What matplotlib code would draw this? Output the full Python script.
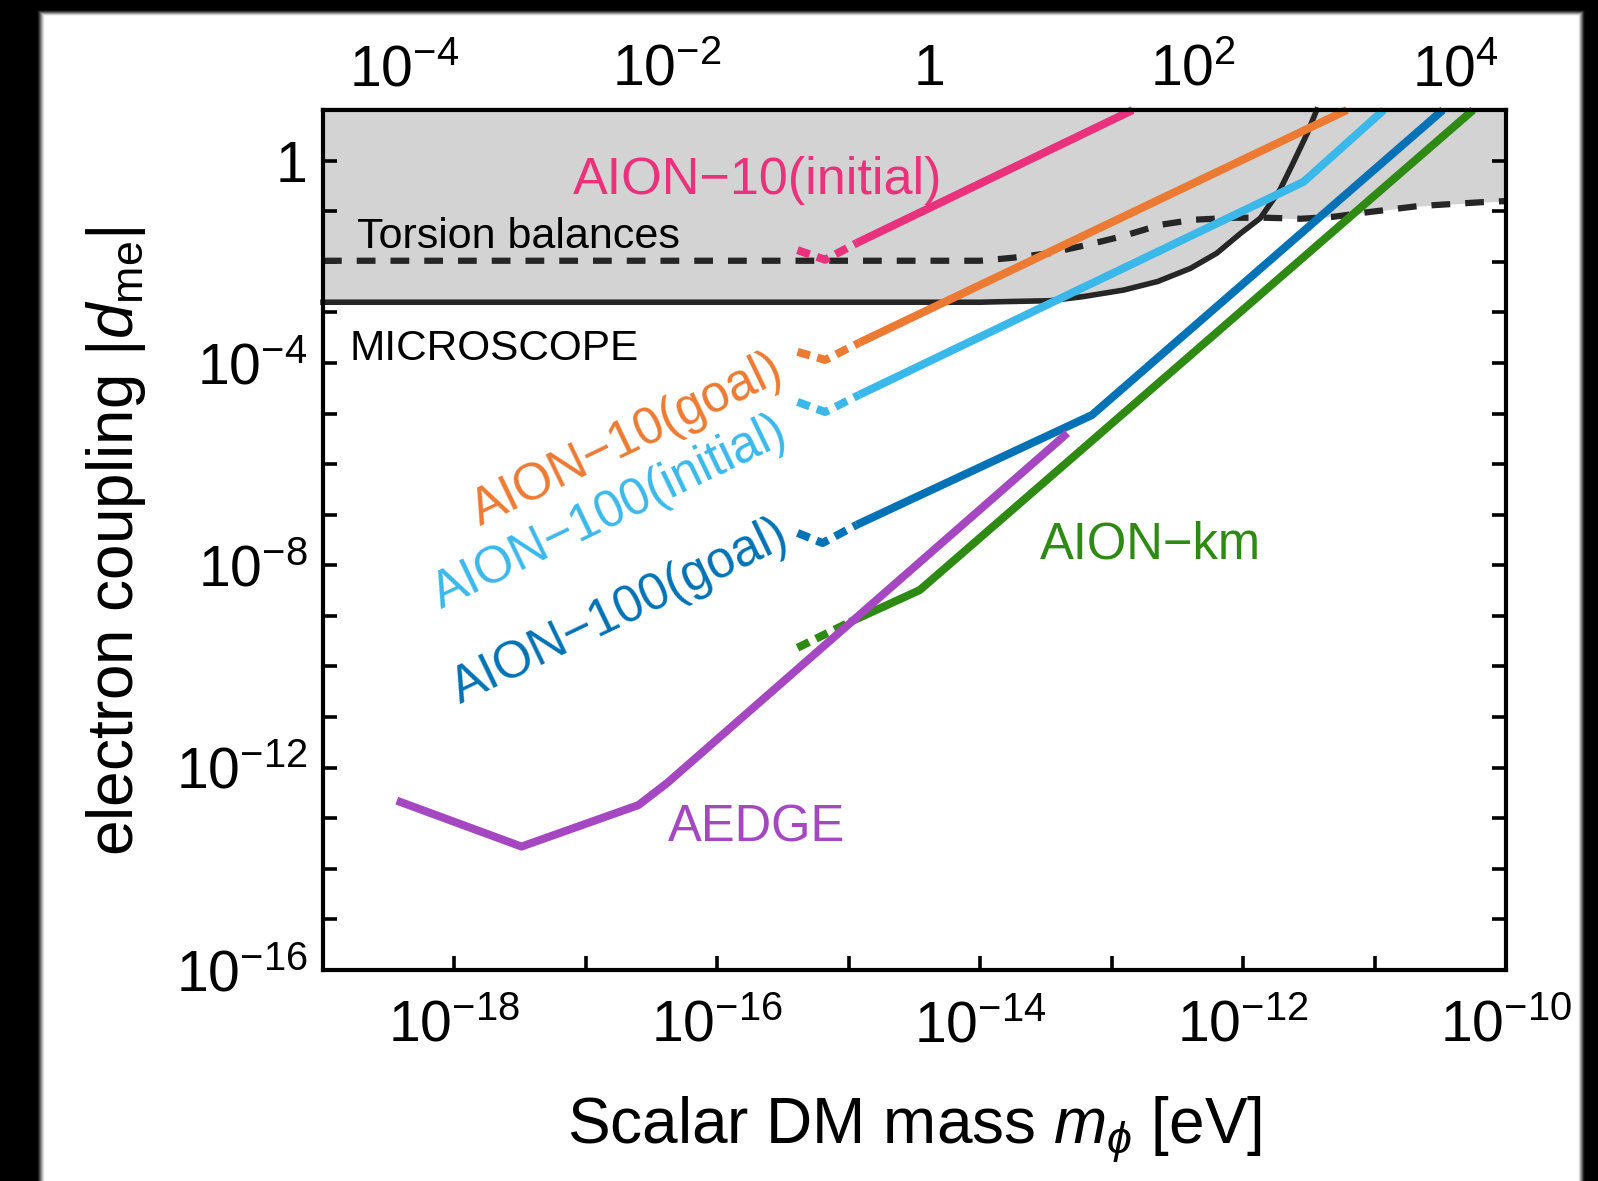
import numpy as np
import matplotlib
matplotlib.use("Agg")
import matplotlib.pyplot as plt
from matplotlib.ticker import FixedLocator, FixedFormatter, NullLocator

plt.rcParams['font.family'] = ['Liberation Sans', 'DejaVu Sans']
plt.rcParams['mathtext.fontset'] = 'custom'
plt.rcParams['mathtext.rm'] = 'Liberation Sans'
plt.rcParams['mathtext.it'] = 'Liberation Sans:italic'
plt.rcParams['mathtext.bf'] = 'Liberation Sans:bold'

# ---- data (log10 of mass [eV] and log10 of |d_me|) ----
microscope_m = [-19.0, -14.0, -13.85, -13.47, -13.22, -12.91, -12.65, -12.40, -12.20,
                -12.02, -11.87, -11.72, -11.62, -11.51, -11.44]
microscope_d = [-2.80, -2.80, -2.79, -2.77, -2.69, -2.56, -2.39, -2.13, -1.83,
                -1.44, -1.14, -0.58, -0.05, 0.55, 1.0]

torsion_m = [-19.0, -14.0, -13.75, -13.47, -13.16, -12.91, -12.63, -12.38, -12.07,
             -11.82, -11.56, -11.31, -11.05, -10.67, -10.17, -10.0]
torsion_d = [-1.98, -1.98, -1.92, -1.83, -1.65, -1.49, -1.27, -1.17, -1.13,
             -1.13, -1.15, -1.11, -1.02, -0.90, -0.82, -0.80]

aion10_init_dash_m = [-15.39, -15.18, -14.94]
aion10_init_dash_d = [-1.77, -1.96, -1.63]
aion10_init_m = [-14.94, -12.84]
aion10_init_d = [-1.63, 1.0]

aion10_goal_dash_m = [-15.39, -15.18, -14.92]
aion10_goal_dash_d = [-3.78, -3.94, -3.60]
aion10_goal_m = [-14.92, -11.21]
aion10_goal_d = [-3.60, 1.0]

aion100_init_dash_m = [-15.39, -15.18, -14.92]
aion100_init_dash_d = [-4.77, -4.97, -4.63]
aion100_init_m = [-14.92, -11.54, -10.93]
aion100_init_d = [-4.63, -0.42, 1.0]

aion100_goal_dash_m = [-15.39, -15.20, -14.94]
aion100_goal_dash_d = [-7.36, -7.56, -7.20]
aion100_goal_m = [-14.94, -13.15, -10.48]
aion100_goal_d = [-7.20, -5.03, 1.0]

aionkm_dash_m = [-15.39, -14.99]
aionkm_dash_d = [-9.63, -9.12]
aionkm_m = [-14.99, -14.46, -10.25]
aionkm_d = [-9.12, -8.49, 1.0]

aedge_m = [-18.41, -17.49, -16.60, -16.38, -13.36]
aedge_d = [-12.68, -13.56, -12.74, -12.30, -5.44]

x_major_exp = [-18, -16, -14, -12, -10]
y_major_exp = [-16, -12, -8, -4, 0]
top_major_exp = [-4, -2, 0, 2, 4]

# ---- colours ----
c_pink = '#e9327b'
c_orange = '#ec7a33'
c_lblue = '#3bb8ea'
c_dblue = '#0072b5'
c_green = '#2f8a14'
c_purple = '#a647c2'
c_black = '#262626'
c_shade = '#d3d3d3'

W, H, DPI = 1598, 1181, 100
fig = plt.figure(figsize=(W / DPI, H / DPI), dpi=DPI, facecolor='white')

# dark frame around the page with a soft inner edge
yy, xx = np.mgrid[0:H, 0:W].astype(float)
def ramp(v):
    v = np.clip(v, 0, 1)
    return v * v * (3 - 2 * v)
dark = np.maximum.reduce([
    ramp((45 - xx) / 9.0),
    ramp((16 - yy) / 7.0),
    ramp((xx - 1577) / 8.0),
])
frame = np.ones((H, W, 3)) * (1 - dark)[..., None]
fig.figimage(frame, xo=0, yo=0, origin='upper', zorder=-10)

ax = fig.add_axes([323 / W, 1 - 970 / H, 1183 / W, 860 / H])
ax.set_zorder(2)
ax.set_facecolor('white')
ax.set_xscale('log')
ax.set_yscale('log')
ax.set_xlim(1e-19, 1e-10)
ax.set_ylim(1e-16, 10)

def p(a):
    return 10.0 ** np.asarray(a, dtype=float)

# excluded region: above the lower envelope of MICROSCOPE and torsion balances
grid = np.linspace(-19, -10, 2000)
mic = np.interp(grid, microscope_m, microscope_d, right=np.inf)
tor = np.interp(grid, torsion_m, torsion_d)
lower = np.minimum(mic, tor)
ax.fill_between(p(grid), p(lower), 10.0, color=c_shade, lw=0, zorder=1)

ax.plot(p(torsion_m), p(torsion_d), color=c_black, lw=4.5,
        linestyle=(0, (3.0, 2.4)), zorder=3)
ax.plot(p(microscope_m), p(microscope_d), color=c_black, lw=4.0, zorder=3,
        clip_on=False)

lw = 5.8
dash = (0, (1.6, 0.95))
series = [
    (aion10_init_dash_m, aion10_init_dash_d, aion10_init_m, aion10_init_d, c_pink),
    (aion10_goal_dash_m, aion10_goal_dash_d, aion10_goal_m, aion10_goal_d, c_orange),
    (aion100_init_dash_m, aion100_init_dash_d, aion100_init_m, aion100_init_d, c_lblue),
    (aion100_goal_dash_m, aion100_goal_dash_d, aion100_goal_m, aion100_goal_d, c_dblue),
    (aionkm_dash_m, aionkm_dash_d, aionkm_m, aionkm_d, c_green),
]
for dm, dd, sm, sd, col in series:
    ax.plot(p(dm), p(dd), color=col, lw=lw, linestyle=dash, zorder=4)
    ax.plot(p(sm), p(sd), color=col, lw=lw, zorder=4, clip_on=False,
            solid_capstyle='butt')
ax.plot(p(aedge_m), p(aedge_d), color=c_purple, lw=lw, zorder=4)

# ---- text labels ----
ax.text(0.2113, 0.9023, 'AION\u221210(initial)', color=c_pink, fontsize=37.5,
        transform=ax.transAxes, ha='left', va='baseline', zorder=5)
ax.text(0.0287, 0.8395, 'Torsion balances', color='black', fontsize=31,
        transform=ax.transAxes, ha='left', va='baseline', zorder=5)
ax.text(0.0228, 0.7097, 'MICROSCOPE', color='black', fontsize=30.5,
        transform=ax.transAxes, ha='left', va='baseline', zorder=5)
ax.text(0.2912, 0.150, 'AEDGE', color=c_purple, fontsize=36.5,
        transform=ax.transAxes, ha='left', va='baseline', zorder=5)
ax.text(0.6057, 0.479, 'AION\u2212km', color=c_green, fontsize=36.5,
        transform=ax.transAxes, ha='left', va='baseline', zorder=5)
rot = 25.7
for (x, y, s, col) in [(0.257, 0.6163, 'AION\u221210(goal)', c_orange),
                       (0.2426, 0.5314, 'AION\u2212100(initial)', c_lblue),
                       (0.2511, 0.4163, 'AION\u2212100(goal)', c_dblue)]:
    ax.text(x, y, s, color=col, fontsize=36.5, rotation=rot,
            rotation_mode='anchor', ha='center', va='center',
            transform=ax.transAxes, zorder=5)

# ---- axes styling ----
for sp in ax.spines.values():
    sp.set_linewidth(3.0)
    sp.set_zorder(6)

ax.xaxis.set_major_locator(FixedLocator(p(np.arange(-19, -9))))
ax.xaxis.set_major_formatter(FixedFormatter(
    [r'$10^{%d}$' % e if e in x_major_exp else '' for e in range(-19, -9)]))
ax.xaxis.set_minor_locator(NullLocator())
ax.yaxis.set_major_locator(FixedLocator(p(np.arange(-16, 1))))
ax.yaxis.set_major_formatter(FixedFormatter(
    [('1' if e == 0 else r'$10^{%d}$' % e) if e in y_major_exp else ''
     for e in range(-16, 1)]))
ax.yaxis.set_minor_locator(NullLocator())
ax.tick_params(which='both', direction='in', length=10, width=2.6,
               top=False, right=True, labelsize=41, zorder=6)
ax.tick_params(axis='x', pad=21)
ax.tick_params(axis='y', pad=11)

# frequency axis on top: f = m / (2*pi*hbar)
h_ev_s = 4.135667e-15
sec = ax.secondary_xaxis('top', functions=(lambda m: m / h_ev_s,
                                           lambda f: f * h_ev_s))
sec.xaxis.set_major_locator(FixedLocator(p(np.arange(-4, 5))))
sec.xaxis.set_major_formatter(FixedFormatter(
    [('1' if e == 0 else r'$10^{%d}$' % e) if e in top_major_exp else ''
     for e in range(-4, 5)]))
sec.xaxis.set_minor_locator(NullLocator())
sec.tick_params(which='both', direction='in', length=10, width=2.6,
                labelsize=41, pad=9)
sec.spines['top'].set_linewidth(3.0)

fig.text(914 / W, 1 - 1143 / H, r'Scalar DM mass $m_{\phi}$ [eV]', fontsize=46,
         ha='center', va='baseline')
fig.text(116 / W, 1 - 541 / H, r'electron coupling $|d_{\rm me}|$', fontsize=46,
         rotation=90, ha='center', va='center')

fig.savefig('out.png', dpi=DPI, facecolor='white')
